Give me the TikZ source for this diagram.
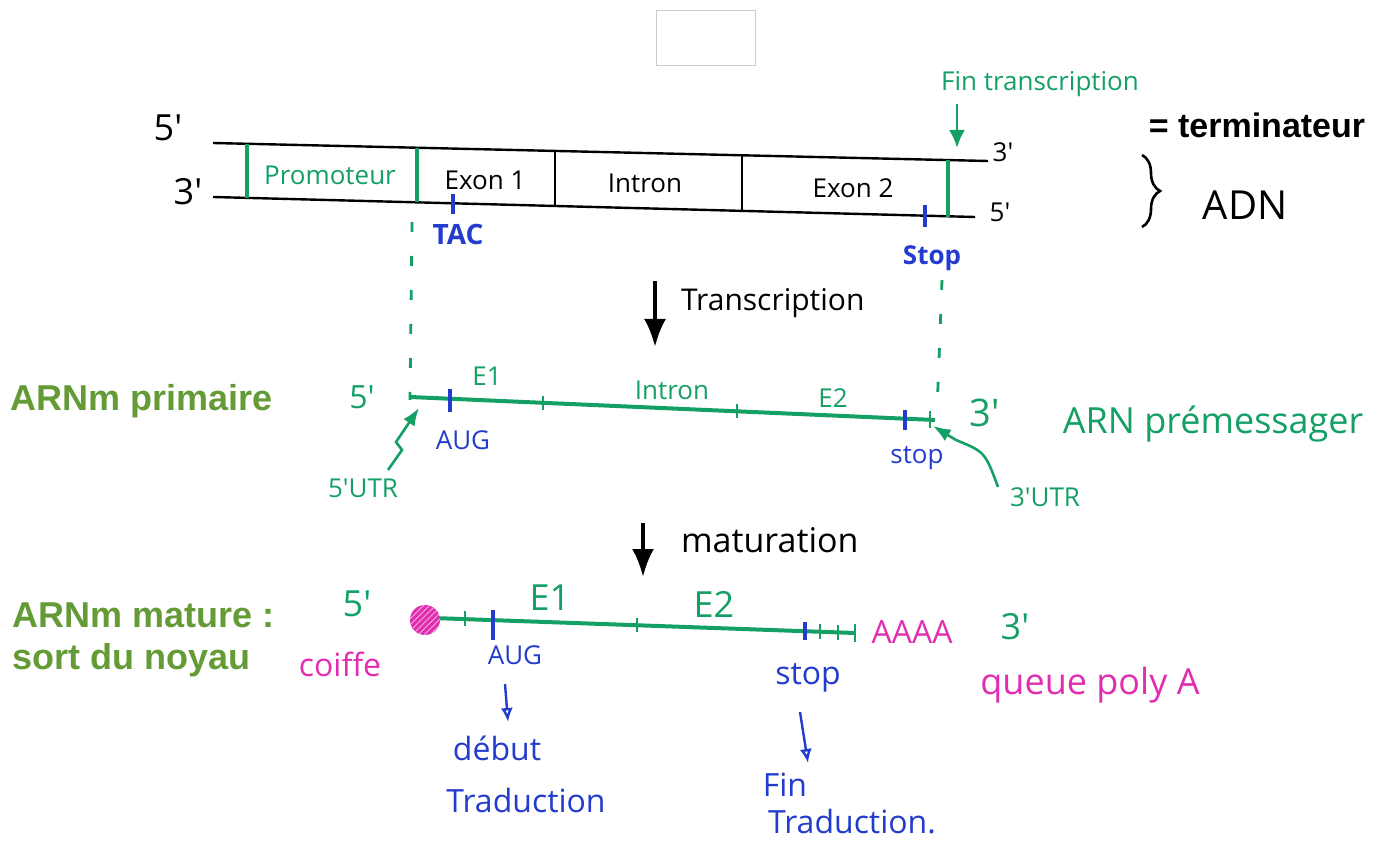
\documentclass[tikz,border=0pt]{standalone}
\usepackage{fontspec}
\setmainfont{Liberation Sans}
\newfontfamily\handfont{Open Sans}
\usepackage{xcolor}
\usetikzlibrary{arrows.meta,calc,decorations.pathreplacing,patterns}
\definecolor{pengreen}{RGB}{20,160,100}
\definecolor{penblue}{RGB}{35,60,205}
\definecolor{penpink}{RGB}{225,45,175}
\definecolor{labgreen}{RGB}{100,155,55}
\tikzset{
  hand/.style={font=\handfont\fontsize{13}{15}\selectfont, inner sep=1pt},
  bighand/.style={font=\handfont\fontsize{16}{18}\selectfont, inner sep=1pt},
  hugehand/.style={font=\handfont\fontsize{18}{21}\selectfont, inner sep=1pt},
  biglabel/.style={font=\bfseries\fontsize{18}{21}\selectfont, text=labgreen, inner sep=0pt},
  strand/.style={line width=1.2pt},
  seqbar/.style={line width=2.4pt, pengreen},
  divbar/.style={line width=1.2pt},
  rna/.style={line width=2pt, pengreen},
  tick/.style={line width=1.4pt, pengreen},
  codon/.style={line width=1.6pt, penblue},
  guide/.style={pengreen, line width=1.4pt, dash pattern=on 5pt off 12pt},
  stepdown/.style={-{Latex[length=14pt,width=11pt]}, line width=2pt},
  bluearrow/.style={penblue, line width=1.2pt, -{Latex[open,length=7pt,width=6pt]}}
}
\begin{document}
\begin{tikzpicture}[x=0.5pt, y=-0.5pt, >=Latex]
  \useasboundingbox (0,0) rectangle (1391,855);
  \draw[gray!40, fill=white] (656,10) rectangle (755,65);
  % ADN
  \coordinate (tl) at (213,143); \coordinate (tr) at (988,161);
  \coordinate (bl) at (213,197); \coordinate (br) at (975,217);
  \draw[strand] (tl) -- (tr);
  \draw[strand] (bl) -- (br);
  \draw[seqbar] (247,144) -- (247,198);
  \draw[seqbar] (417,148) -- (417,202);
  \draw[seqbar] (948,160) -- (948,217);
  \draw[divbar] (555,151) -- (555,206);
  \draw[divbar] (742,155) -- (742,211);
  \node[hugehand] (d5a) at (168,128) {5'};
  \node[hugehand] (d3a) at (188,192) {3'};
  \node[hand, text=pengreen] (promo) at (330,175) {Promoteur};
  \node[hand] (exon1) at (485,180) {Exon 1};
  \node[hand] (intron) at (645,183) {Intron};
  \node[hand] (exon2) at (853,188) {Exon 2};
  \node[hand] (d3b) at (1003,152) {3'};
  \node[hand] (d5b) at (1000,212) {5'};
  \draw[line width=1.3pt, decorate, decoration={brace, amplitude=9pt}] (1142,155) -- (1142,227);
  \node[font=\handfont\fontsize{20}{22}\selectfont] (adn) at (1245,205) {ADN};
  \node[hand, text=pengreen] (fintr) at (1040,84) {Fin transcription};
  \coordinate (term) at (957,148);
  \draw[pengreen, line width=1.4pt, -{Latex[length=9pt,width=8pt]}] (957,104) -- (term);
  \node[font=\bfseries\fontsize{17}{20}\selectfont, inner sep=0pt] (termin) at (1257,125) {= terminateur};
  % codons ADN
  \draw[codon] (453,194) -- (453,214);
  \node[hand, text=penblue, font=\handfont\bfseries\fontsize{14}{16}\selectfont] (tac) at (458,235) {TAC};
  \draw[codon] (925,205) -- (925,227);
  \node[hand, text=penblue, font=\handfont\bfseries\fontsize{13}{15}\selectfont] (stopa) at (932,258) {Stop};
  \draw[guide] (412,222) -- (410,400);
  \draw[guide] (942,280) -- (937,412);
  % transcription
  \coordinate (t1) at (655,281); \coordinate (t2) at (655,347);
  \draw[stepdown] (t1) -- (t2);
  \node[font=\handfont\fontsize{15}{17}\selectfont, anchor=west] (transc) at (674,303) {Transcription};
  % ARN premessager
  \node[biglabel, anchor=west] (primaire) at (10,401) {ARNm primaire};
  \coordinate (pl) at (410,397); \coordinate (pr) at (935,420);
  \draw[rna] (pl) -- (pr);
  \draw[tick] (543,396) -- (543,410);
  \draw[tick] (737,404) -- (737,418);
  \draw[tick] (930,411) -- (930,428);
  \draw[codon] (450,389) -- (450,412);
  \draw[codon] (905,410) -- (905,430);
  \node[bighand, text=pengreen] (p5) at (362,397) {5'};
  \node[hand, text=pengreen] (pe1) at (487,376) {E1};
  \node[hand, text=pengreen] (pint) at (672,390) {Intron};
  \node[hand, text=pengreen] (pe2) at (833,398) {E2};
  \node[font=\handfont\fontsize{19}{21}\selectfont, text=pengreen] (p3) at (985,413) {3'};
  \node[hugehand, text=pengreen] (premess) at (1213,424) {ARN prémessager};
  \node[hand, text=penblue] (paug) at (463,440) {AUG};
  \node[hand, text=penblue] (pstop) at (917,458) {stop};
  \node[hand, text=pengreen] (utr5) at (363,488) {5'UTR};
  \node[hand, text=pengreen] (utr3) at (1045,497) {3'UTR};
  \draw[pengreen, line width=1.3pt, ->] (388,470) -- (402,450) -- (396,442) -- (419,408);
  \draw[pengreen, line width=1.3pt, ->] (998,487) .. controls (985,452) .. (956,440) -- (933,426);
  % maturation
  \coordinate (m1) at (643,523); \coordinate (m2) at (643,577);
  \draw[stepdown] (m1) -- (m2);
  \node[font=\handfont\fontsize{17}{19}\selectfont, anchor=west] (matur) at (674,540) {maturation};
  % ARNm mature
  \node[biglabel, anchor=west, align=left] (mature) at (12,640) {ARNm mature :\\sort du noyau};
  \coordinate (ml) at (433,618); \coordinate (mr) at (855,633);
  \draw[rna] (ml) -- (mr);
  \fill[penpink] (425,620) circle (15);
  \fill[pattern=north east lines, pattern color=white!60!penpink] (425,620) circle (15);
  \draw[tick] (465,611) -- (465,626);
  \draw[tick] (637,618) -- (637,632);
  \draw[tick] (820,624) -- (820,639);
  \draw[tick] (838,625) -- (838,640);
  \draw[tick] (855,624) -- (855,642);
  \draw[codon] (493,610) -- (493,640);
  \draw[codon] (805,622) -- (805,640);
  \node[hugehand, text=pengreen] (m5) at (357,604) {5'};
  \node[bighand, text=penpink] (coiffe) at (340,664) {coiffe};
  \node[hugehand, text=pengreen] (me1) at (550,598) {E1};
  \node[hugehand, text=pengreen] (me2) at (714,604) {E2};
  \node[bighand, text=penpink] (polya) at (912,632) {AAAA};
  \node[hugehand, text=pengreen] (m3) at (1015,627) {3'};
  \node[hand, text=penblue] (maug) at (515,655) {AUG};
  \node[bighand, text=penblue] (mstop) at (808,678) {stop};
  \node[hugehand, text=penpink] (queue) at (1090,685) {queue poly A};
  \node[bighand, text=penblue] (debut) at (497,748) {début};
  \node[bighand, text=penblue] (trad1) at (526,800) {Traduction};
  \node[bighand, text=penblue] (fin) at (785,785) {Fin};
  \node[bighand, text=penblue] (trad2) at (852,822) {Traduction.};
  \coordinate (a1) at (505,684); \coordinate (a2) at (508,722);
  \draw[bluearrow] (a1) -- (a2);
  \coordinate (b1) at (800,712); \coordinate (b2) at (808,763);
  \draw[bluearrow] (b1) -- (b2);
\end{tikzpicture}
\end{document}
